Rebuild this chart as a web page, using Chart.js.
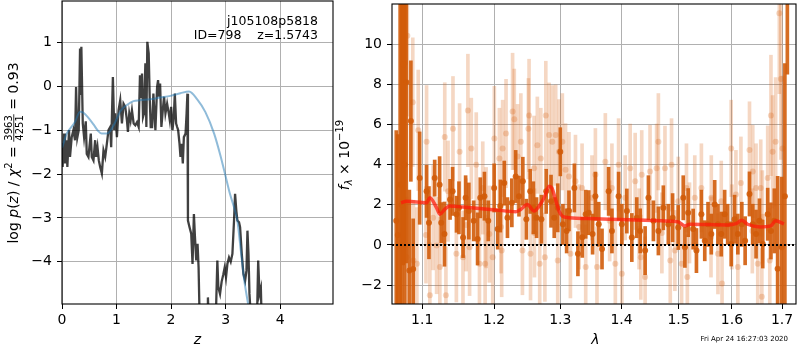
<!DOCTYPE html>
<html>
<head>
<meta charset="utf-8">
<script src="https://cdn.jsdelivr.net/npm/chart.js@4.4.1/dist/chart.umd.min.js"></script>
<style>
  html, body { margin: 0; padding: 0; background: #fff; }
  #wrap { position: relative; width: 800px; height: 350px; }
  #pz { position: absolute; left: 0; top: 0; }
  #spec { position: absolute; left: 330px; top: 0; }
</style>
</head>
<body>
<div id="wrap">
  <canvas id="pz" width="340" height="350"></canvas>
  <canvas id="spec" width="470" height="350"></canvas>
</div>
<script>
// left panel: log p(z)
const zGrid = [0.000, 0.012, 0.037, 0.055, 0.070, 0.086, 0.098, 0.129, 0.147, 0.178, 0.209, 0.239, 0.258, 0.282, 0.307,
  0.331, 0.340, 0.355, 0.381, 0.405, 0.436, 0.454, 0.485, 0.503, 0.528, 0.546, 0.577, 0.608, 0.626, 0.651, 0.675, 0.700,
  0.731, 0.761, 0.792, 0.823, 0.853, 0.884, 0.902, 0.933, 0.958, 0.976, 1.007, 1.037, 1.068, 1.099, 1.129, 1.160, 1.191,
  1.209, 1.234, 1.258, 1.283, 1.314, 1.344, 1.375, 1.406, 1.430, 1.449, 1.467, 1.486, 1.504, 1.529, 1.547, 1.565, 1.590,
  1.608, 1.627, 1.652, 1.676, 1.694, 1.713, 1.744, 1.762, 1.780, 1.799, 1.823, 1.848, 1.872, 1.897, 1.928, 1.958, 1.977,
  2.001, 2.026, 2.050, 2.069, 2.093, 2.112, 2.130, 2.155, 2.173, 2.192, 2.216, 2.235, 2.266, 2.285, 2.300, 2.310, 2.339,
  2.370, 2.394, 2.419, 2.437, 2.462, 2.486, 2.505, 2.529, 2.600, 2.660, 2.676, 2.695, 2.756, 2.818, 2.849, 2.867, 2.898,
  2.928, 2.959, 2.983, 3.008, 3.033, 3.063, 3.094, 3.125, 3.155, 3.174, 3.198, 3.217, 3.247, 3.266, 3.297, 3.327, 3.358,
  3.383, 3.401, 3.420, 3.438, 3.475, 3.524, 3.573, 3.598, 3.622, 3.647, 3.665, 3.750];
const logPz = [-1.30, -1.84, -1.08, -1.76, -1.45, -1.23, -1.84, -1.00, -1.61, -1.16, -1.00, -1.23, -0.02, -1.16, -1.00,
  0.86, -0.20, 0.90, -0.85, -1.16, -0.80, -1.54, -1.61, -1.39, -1.08, -1.61, -1.69, -1.23, -1.61, -1.39, -1.69, -1.84,
  -1.99, -1.46, -1.61, -1.31, -1.00, -0.93, -1.39, 0.21, -1.00, -0.62, -1.16, -0.55, -0.32, -0.85, -0.40, -0.47, -0.78,
  -1.04, -0.62, -0.78, -0.55, -0.85, -0.89, -0.82, -0.93, 0.25, -0.24, 0.29, -0.70, -0.62, 0.52, -0.93, 1.01, 0.75,
  -0.24, -0.93, -0.93, -0.17, -0.62, -1.00, -0.02, 0.14, -0.24, 0.06, -0.93, -0.55, -0.24, -0.62, -0.40, -0.62, -0.78,
  -0.47, -1.00, -0.70, -0.17, -0.85, -0.93, -1.00, -1.31, -1.61, -1.31, -1.76, -1.16, -1.08, -0.62, -0.17, -3.06, -3.21,
  -3.36, -4.05, -2.91, -3.40, -3.97, -3.59, -4.13, -5.60, -6.00, -5.30, -4.81, -5.50, -6.00, -5.40, -3.97, -4.58, -4.73,
  -4.45, -4.28, -4.13, -4.35, -4.05, -3.90, -4.00, -3.82, -3.06, -2.45, -2.85, -3.06, -3.10, -3.21, -3.82, -4.28, -4.43,
  -4.20, -3.29, -3.82, -4.73, -5.50, -6.20, -5.50, -3.97, -4.73, -4.60, -5.50, -7.00];

const zTempl = [0.000, 0.025, 0.080, 0.147, 0.240, 0.330, 0.390, 0.485, 0.577, 0.670, 0.730, 0.820, 0.880, 0.976, 1.070,
  1.190, 1.310, 1.430, 1.620, 1.800, 1.990, 2.170, 2.330, 2.480, 2.630, 2.790, 2.910, 3.000, 3.080, 3.160, 3.220, 3.280,
  3.340, 3.430, 3.500];
const logPzTempl = [-1.40, -1.31, -1.10, -0.97, -0.81, -0.58, -0.60, -0.72, -0.87, -1.03, -1.08, -1.08, -1.03, -0.82, -0.57,
  -0.43, -0.34, -0.32, -0.30, -0.26, -0.22, -0.16, -0.12, -0.30, -0.59, -1.08, -1.60, -2.05, -2.45, -2.78, -3.10, -3.75,
  -4.40, -5.10, -5.80];

// right panel: spectrum
const darkLam = [1.066, 1.068, 1.071, 1.073, 1.075, 1.077, 1.079, 1.083, 1.085, 1.088, 1.0966, 1.1058, 1.109, 1.1167,
  1.1234, 1.1256, 1.130, 1.1377, 1.1412, 1.1466, 1.150, 1.1557, 1.1593, 1.1638, 1.1707, 1.1762, 1.180, 1.186, 1.1915,
  1.200, 1.2052, 1.209, 1.2148, 1.2195, 1.226, 1.2317, 1.2366, 1.2424, 1.2477, 1.2535, 1.2583, 1.2632, 1.2706, 1.278,
  1.2855, 1.2905, 1.296, 1.300, 1.3041, 1.310, 1.3137, 1.3223, 1.328, 1.335, 1.3406, 1.3455, 1.3518, 1.3564, 1.3619,
  1.3673, 1.3783, 1.3838, 1.395, 1.4005, 1.409, 1.4175, 1.426, 1.4319, 1.4405, 1.4463, 1.455, 1.4638, 1.4726, 1.4815,
  1.4892, 1.4994, 1.5085, 1.5115, 1.5175, 1.5267, 1.5328, 1.542, 1.5483, 1.5544, 1.5606, 1.567, 1.5732, 1.5795, 1.586,
  1.5918, 1.5986, 1.6051, 1.6115, 1.6193, 1.6258, 1.6344, 1.6409, 1.6474, 1.6542, 1.6608, 1.6708, 1.6774, 1.6842, 1.691,
  1.6992, 1.7059, 1.711];
const darkFlux = [1.2, 0.5, 3.0, 2.0, 9.0, 4.0, 8.1, -1.27, 6.17, -1.2, 3.33, 2.67, 1.11, 3.33,
  3.0, 1.11, 0.54, 2.27, 2.67, 1.53, 1.85, 0.37, 2.35, 1.69, 1.20, 0.30, 2.35, 2.43, 1.20,
  2.84, 0.79, 1.94, 3.08, 1.36, 2.10, 3.41, 2.43, 3.17, 1.28, 2.67, 1.85, 1.36, 1.28, 2.67,
  2.18, 1.36, 1.85, 4.64, 1.03, 0.70, 1.70, 2.84, -0.44, 0.38, 1.53, 1.61, 0.54, 2.43, 1.03,
  -0.20, 2.67, 0.70, 2.43, 1.03, 1.69, 0.37, 1.36, 0.70, -0.28, 2.35, 1.20, 0.70, 1.85, 1.03,
  1.36, 0.87, 2.35, -0.12, 1.61, 0.79, -0.28, 1.53, 0.21, 1.03, 0.54, 2.02, 1.03, 0.54, 1.53,
  1.03, 0.05, 1.28, 0.54, 1.03, 0.21, 2.54, 1.03, 0.54, 1.20, 0.05, 1.53, 0.70, 1.20, -1.18,
  -0.12, 2.43, 20.0];
const darkErr = [4.5, 5.0, 12, 12, 10, 11, 9, 4, 3, 2.5, 2.3, 1.3, 1.8, 0.9,
  1.4, 1.0, 1.6, 1.0, 1.2, 0.9, 1.3, 1.0, 1.1, 1.4, 1.0, 1.3, 1.0, 1.2, 1.0,
  1.2, 1.0, 1.3, 1.1, 1.0, 1.2, 1.3, 1.0, 1.2, 1.0, 1.1, 1.3, 1.0, 1.2, 1.1,
  1.3, 1.0, 1.2, 1.2, 1.0, 1.1, 1.0, 1.2, 1.1, 1.0, 1.2, 1.1, 1.0, 1.2, 1.1,
  1.0, 1.2, 1.1, 1.2, 1.0, 1.1, 1.2, 1.0, 1.1, 1.2, 1.1, 1.0, 1.2, 1.1, 1.0,
  1.2, 1.1, 1.1, 1.0, 1.2, 1.0, 1.1, 1.2, 1.0, 1.1, 1.0, 1.2, 1.0, 1.1, 1.2,
  1.0, 1.1, 1.2, 1.0, 1.1, 1.2, 1.1, 1.0, 1.2, 1.1, 1.2, 1.3, 1.4, 1.6, 4.6,
  3.5, 6.6, 11.5];

const lightLam = [1.0774, 1.0795, 1.0804, 1.0875, 1.0883, 1.0929, 1.0947, 1.105, 1.1058, 1.1102, 1.1146, 1.1193, 1.1237,
  1.1304, 1.1320, 1.1349, 1.1417, 1.1464, 1.1509, 1.1556, 1.16, 1.1625, 1.1649, 1.1673, 1.1743, 1.1789, 1.1836, 1.1870,
  1.1884, 1.1931, 1.1979, 1.2003, 1.2076, 1.21, 1.2110, 1.2124, 1.2174, 1.2271, 1.2296, 1.2345, 1.2394, 1.2418, 1.2508,
  1.2518, 1.2540, 1.2594, 1.26, 1.2644, 1.2680, 1.2697, 1.2760, 1.2774, 1.2825, 1.2875, 1.2928, 1.2960, 1.2980, 1.3032,
  1.3083, 1.3137, 1.3160, 1.3241, 1.33, 1.3347, 1.3406, 1.3508, 1.3564, 1.3590, 1.3728, 1.38, 1.3838, 1.3895, 1.3950,
  1.4005, 1.4062, 1.4147, 1.4233, 1.43, 1.4330, 1.4346, 1.4405, 1.4491, 1.4607, 1.4638, 1.47, 1.4755, 1.4850, 1.4873,
  1.4933, 1.4994, 1.5055, 1.5144, 1.5160, 1.52, 1.5297, 1.5420, 1.56, 1.5606, 1.5732, 1.5795, 1.5810, 1.5986, 1.60,
  1.6078, 1.6115, 1.6175, 1.6344, 1.64, 1.6409, 1.6474, 1.6508, 1.6568, 1.6590, 1.66, 1.6708, 1.6750, 1.6774, 1.6808,
  1.6869, 1.6945, 1.6977, 1.7011];
const lightFlux = [9.08, -0.61, 10.42, 7.11, -0.77, -0.94, 5.71, 0.5, 5.14, -2.50, 1.36, -0.03, -1.10,
  5.38, -2.50, 2.68, 5.79, -0.44, 4.64, -0.61, 1.0, 6.70, -0.12, 4.81, 3.99, -0.94, 2.84, -0.94,
  1.36, 0.54, -0.61, 5.30, 4.31, 0.9, -0.28, 4.81, 5.55, 6.65, 6.26, 4.40, 5.14, -0.28, 5.79,
  6.45, -0.44, 3.82, 0.6, 4.97, -0.94, 4.31, -0.61, 6.45, 5.47, 5.14, 5.47, -0.77, 4.64, 5.14,
  3.74, 3.41, -0.44, 3.17, 0.9, 2.84, -1.10, 2.35, 3.50, -1.10, 4.15, 1.2, 2.84, -0.94, 3.99,
  -1.43, 2.35, 3.82, 3.17, 0.8, -0.61, 3.50, -1.59, 3.66, 3.82, 5.14, 0.6, 3.82, -0.77, 3.99,
  -0.28, 2.18, -0.94, 2.84, -1.59, 1.1, 2.35, 2.84, 0.4, 2.35, -0.44, 2.18, -1.92, 4.81, 0.9,
  2.51, -1.10, 3.08, 4.73, 0.7, 3.66, 2.84, -0.94, 2.84, -2.58, 1.4, 3.33, -0.77, 6.45, 4.64,
  5.14, 11.54, 8.26, 4.81];
const lightErr = [3.0, 3.0, 4.0, 3.2, 3.0, 2.8, 3.0, 2.4, 2.8, 2.6, 2.6, 2.4, 2.5,
  2.7, 2.4, 2.5, 2.6, 2.4, 2.4, 2.3, 2.3, 2.8, 2.4, 2.5, 2.6, 2.3, 2.3, 2.2,
  2.5, 2.4, 2.4, 2.6, 2.5, 2.3, 2.3, 2.4, 2.7, 2.9, 2.5, 2.6, 2.4, 2.2, 2.5,
  2.8, 2.3, 2.6, 2.2, 2.4, 2.3, 2.5, 2.2, 2.7, 2.6, 2.8, 2.5, 2.3, 2.6, 2.4,
  2.3, 2.2, 2.2, 2.3, 2.1, 2.2, 2.1, 2.1, 2.3, 2.0, 2.4, 2.0, 2.2, 2.1, 2.3,
  2.0, 2.1, 2.2, 2.4, 2.0, 2.1, 2.2, 2.0, 2.3, 2.2, 2.4, 2.0, 2.1, 2.1, 2.3,
  2.0, 2.2, 2.0, 2.2, 2.1, 2.0, 2.1, 2.2, 2.0, 2.1, 2.0, 2.0, 2.0, 2.4, 2.1,
  2.2, 2.1, 2.3, 2.4, 2.1, 2.3, 2.2, 2.2, 2.4, 2.4, 2.3, 2.6, 2.6, 3.0, 2.8,
  3.2, 4.0, 4.0, 3.6];

const modelLam = [1.0722, 1.0795, 1.1058, 1.1102, 1.1193, 1.1237, 1.1304, 1.1372, 1.1556, 1.1789, 1.2029, 1.2319, 1.2394,
  1.2493, 1.2594, 1.2671, 1.2748, 1.2825, 1.2867, 1.2918, 1.2980, 1.3032, 1.3137, 1.3564, 1.4119, 1.4695, 1.4994, 1.5115,
  1.5206, 1.5918, 1.6078, 1.6194, 1.6305, 1.6568, 1.6768, 1.6869, 1.7040];
const modelFlux = [2.10, 2.18, 2.10, 2.35, 1.85, 1.53, 1.77, 1.94, 1.89, 1.82, 1.74, 1.66, 1.77,
  2.02, 1.69, 1.94, 2.35, 2.92, 2.84, 2.35, 1.69, 1.44, 1.36, 1.31, 1.25, 1.20, 1.15, 0.95,
  1.03, 1.00, 1.06, 1.23, 1.03, 0.90, 0.95, 1.20, 1.05];

const pzRangeX = [0, 4.97], pzRangeY = [-4.96, 1.94];
const specRangeX = [1.0605, 1.729], specRangeY = [-2.94, 12];
const pzTicksX = [0, 1, 2, 3, 4];
const pzTicksY = [-4, -3, -2, -1, 0, 1];
const specTicksX = [1.1, 1.2, 1.3, 1.4, 1.5, 1.6, 1.7];
const specTicksY = [-2, 0, 2, 4, 6, 8, 10];

const FONT = 'DejaVu Sans';
const minus = v => String(v).replace('-', '\u2212');

// fixed axis sizes, no label overflow padding
const fitX = s => { s.height = 46; s.paddingLeft = 0; s.paddingRight = 0; };
const fitY = s => { s.width = 62; s.paddingTop = 0; s.paddingBottom = 0; };

function axis(range, ticks, fmt, fit, pad, extra) {
  return Object.assign({
    min: range[0], max: range[1], offset: false,
    afterBuildTicks: s => { s.ticks = ticks.map(v => ({ value: v })); },
    afterFit: fit,
    grid: { color: '#b0b0b0', lineWidth: 1, tickColor: '#000', tickLength: 5, tickWidth: 1, offset: false },
    border: { display: false },
    ticks: { color: '#000', font: { family: FONT, size: 14 }, padding: pad, autoSkip: false, maxRotation: 0, callback: fmt }
  }, extra);
}

const frame = {
  id: 'frame',
  afterDraw(chart) {
    const { ctx, chartArea: a } = chart;
    ctx.save();
    ctx.strokeStyle = '#000';
    ctx.lineWidth = 1.1;
    ctx.strokeRect(a.left, a.top, a.right - a.left, a.bottom - a.top);
    ctx.restore();
  }
};

function drawRuns(ctx, runs, x, y, rotate) {
  ctx.save();
  ctx.translate(x, y);
  if (rotate) ctx.rotate(-Math.PI / 2);
  ctx.fillStyle = '#000';
  ctx.textBaseline = 'alphabetic';
  let total = 0;
  runs.forEach(r => {
    ctx.font = r.font;
    r.w = r.frac ? Math.max(...r.frac.map(t => ctx.measureText(t).width)) + 2 : ctx.measureText(r.text).width;
    total += r.w;
  });
  let cx = -total / 2;
  runs.forEach(r => {
    ctx.font = r.font;
    if (r.frac) {
      ctx.textAlign = 'center';
      ctx.fillText(r.frac[0], cx + r.w / 2, -6);
      ctx.fillText(r.frac[1], cx + r.w / 2, 5);
      ctx.fillRect(cx, -4.6, r.w, 0.8);
    } else {
      ctx.textAlign = 'left';
      ctx.fillText(r.text, cx, r.dy || 0);
    }
    cx += r.w;
  });
  ctx.restore();
}

const pzText = {
  id: 'pzText',
  afterDraw(chart) {
    const ctx = chart.ctx;
    const n = '14px "' + FONT + '"', it = 'italic 14px "' + FONT + '"', sm = '10px "' + FONT + '"';
    drawRuns(ctx, [
      { text: 'log ', font: n }, { text: 'p', font: it }, { text: '(', font: n }, { text: 'z', font: it },
      { text: ') / ', font: n }, { text: '\u03c7', font: it }, { text: '2', font: sm, dy: -6 },
      { text: ' = ', font: n }, { frac: ['3963', '4251'], font: sm }, { text: ' = 0.93', font: n }
    ], 18, 153, true);
    drawRuns(ctx, [{ text: 'z', font: it }], 197.5, 344, false);
    ctx.save();
    ctx.font = '12.5px "' + FONT + '"';
    ctx.textAlign = 'right';
    ctx.fillStyle = '#000';
    ctx.fillText('j105108p5818', 318, 24.5);
    ctx.fillText('ID=798    z=1.5743', 318, 38.5);
    ctx.restore();
  }
};

const specText = {
  id: 'specText',
  afterDraw(chart) {
    const ctx = chart.ctx;
    const n = '14px "' + FONT + '"', it = 'italic 14px "' + FONT + '"';
    drawRuns(ctx, [
      { text: 'f', font: it }, { text: '\u03bb', font: 'italic 10px "' + FONT + '"', dy: 3 },
      { text: ' \u00d7 10', font: n }, { text: '\u221219', font: '10px "' + FONT + '"', dy: -6 }
    ], 19, 155, true);
    drawRuns(ctx, [{ text: '\u03bb', font: it }], 265.5, 344, false);
    ctx.save();
    ctx.font = '7px "' + FONT + '"';
    ctx.textAlign = 'right';
    ctx.textBaseline = 'middle';
    ctx.fillStyle = '#000';
    ctx.fillText('Fri Apr 24 16:27:03 2020', 458, 339.5);
    ctx.restore();
  }
};

new Chart(document.getElementById('pz'), {
  type: 'line',
  data: {
    datasets: [
      { data: zTempl.map((z, i) => ({ x: z, y: logPzTempl[i] })), borderColor: 'rgba(31,119,180,0.5)',
        borderWidth: 2, pointRadius: 0, cubicInterpolationMode: 'monotone', order: 0 },
      { data: zGrid.map((z, i) => ({ x: z, y: logPz[i] })), borderColor: 'rgba(0,0,0,0.75)',
        borderWidth: 2.3, pointRadius: 0, tension: 0, order: 1 }
    ]
  },
  options: {
    responsive: false, animation: false,
    layout: { padding: { top: 1, right: 7, left: 0, bottom: 0 } },
    plugins: { legend: { display: false }, tooltip: { enabled: false } },
    scales: {
      x: axis(pzRangeX, pzTicksX, v => minus(v), fitX, 3, { type: 'linear' }),
      y: axis(pzRangeY, pzTicksY, v => minus(v), fitY, 5, { type: 'linear' })
    }
  },
  plugins: [frame, pzText]
});

const orangeDark = 'rgba(210,92,10,0.9)';
const orangeLight = 'rgba(215,95,15,0.25)';

new Chart(document.getElementById('spec'), {
  type: 'line',
  data: {
    datasets: [
      { type: 'line', data: specRangeX.map(l => ({ x: l, y: 0 })), borderColor: '#000', borderWidth: 2,
        borderDash: [2, 2], pointRadius: 0, order: 0 },
      { type: 'line', data: modelLam.map((l, i) => ({ x: l, y: modelFlux[i] })), borderColor: 'rgba(255,25,10,0.72)',
        borderWidth: 3.5, pointRadius: 0, cubicInterpolationMode: 'monotone', order: 1 },
      { type: 'line', data: darkLam.map((l, i) => ({ x: l, y: darkFlux[i] })), showLine: false,
        pointRadius: 3, pointBorderWidth: 0, pointBackgroundColor: orangeDark, order: 2 },
      { type: 'bar', data: darkLam.map((l, i) => ({ x: l, y: [darkFlux[i] - darkErr[i], darkFlux[i] + darkErr[i]] })),
        backgroundColor: orangeDark, barThickness: 3, grouped: false, order: 3 },
      { type: 'line', data: lightLam.map((l, i) => ({ x: l, y: lightFlux[i] })), showLine: false,
        pointRadius: 3, pointBorderWidth: 0, pointBackgroundColor: orangeLight, order: 4 },
      { type: 'bar', data: lightLam.map((l, i) => ({ x: l, y: [lightFlux[i] - lightErr[i], lightFlux[i] + lightErr[i]] })),
        backgroundColor: orangeLight, barThickness: 3, grouped: false, order: 5 }
    ]
  },
  options: {
    responsive: false, animation: false,
    layout: { padding: { top: 1, right: 1, left: 0, bottom: 0 } },
    plugins: { legend: { display: false }, tooltip: { enabled: false } },
    scales: {
      x: axis(specRangeX, specTicksX, v => Number(v).toFixed(1), fitX, 3, { type: 'logarithmic' }),
      y: axis(specRangeY, specTicksY, v => minus(v), fitY, 5, { type: 'linear' })
    }
  },
  plugins: [frame, specText]
});
</script>
</body>
</html>
